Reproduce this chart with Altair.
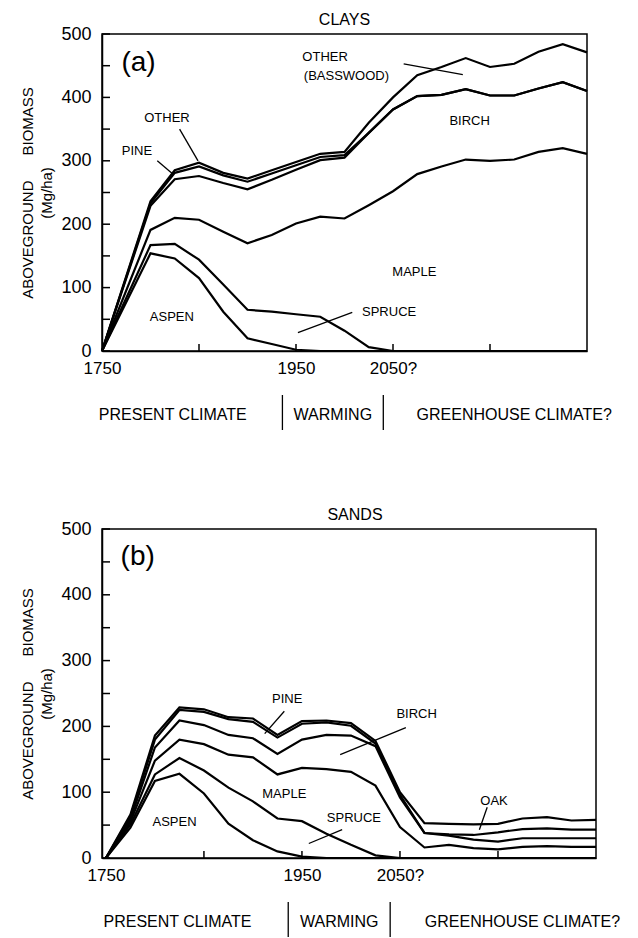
import altair as alt
import numpy as np
import pandas as pd

# ---------------- data (biomass of each species, Mg/ha) ----------------
species = ["ASPEN", "SPRUCE", "MAPLE", "BIRCH", "PINE", "OTHER"]

years_clay = [1750, 1800, 1825, 1850, 1875, 1900, 1925, 1950, 1975, 2000,
              2025, 2050, 2075, 2100, 2125, 2150, 2175, 2200, 2225, 2250]
clay_aspen = [0, 154, 146, 115, 62, 20, 11, 2, 0, 0, 0, 0, 0, 0, 0, 0, 0, 0, 0, 0]
clay_spruce = [0, 13, 23, 29, 43, 45, 51, 56, 54, 32, 6, 0, 0, 0, 0, 0, 0, 0, 0, 0]
clay_maple = [0, 24, 41, 63, 83, 105, 121, 143, 158, 177, 224, 252, 279, 291, 302, 300, 302, 314, 320, 311]
clay_birch = [0, 38, 61, 69, 77, 85, 87, 85, 89, 96, 114, 129, 123, 113, 111, 103, 101, 100, 104, 99]
clay_pine = [0, 4, 10, 15, 12, 12, 10, 7, 5, 4, 0, 0, 0, 0, 0, 0, 0, 0, 0, 0]
clay_other = [0, 3, 4, 6, 4, 5, 5, 5, 5, 5, 16, 19, 33, 44, 49, 45, 50, 58, 60, 61]

years_sand = [1750, 1775, 1800, 1825, 1850, 1875, 1900, 1925, 1950, 1975, 2000,
              2025, 2050, 2075, 2100, 2125, 2150, 2175, 2200, 2225, 2250]
sand_aspen = [0, 46, 117, 128, 98, 52, 27, 10, 2, 0, 0, 0, 0, 0, 0, 0, 0, 0, 0, 0, 0]
sand_spruce = [0, 5, 10, 24, 35, 55, 59, 50, 54, 37, 20, 4, 0, 0, 0, 0, 0, 0, 0, 0, 0]
sand_maple = [0, 4, 21, 28, 40, 50, 67, 67, 81, 98, 111, 106, 47, 16, 20, 15, 13, 17, 18, 17, 17]
sand_birch = [0, 4, 20, 29, 29, 30, 29, 31, 43, 52, 55, 60, 45, 22, 14, 13, 12, 13, 12, 13, 13]
sand_pine = [0, 4, 12, 16, 20, 24, 25, 25, 24, 19, 15, 4, 4, 0, 2, 7, 14, 14, 15, 13, 13]
sand_oak = [0, 3, 6, 4, 4, 3, 5, 4, 4, 3, 4, 4, 4, 15, 16, 16, 13, 16, 17, 14, 15]

# axis labels / ticks
xlabel_values = [1750, 1950, 2050]
xtick_values = [1850, 1950, 2050, 2150]
ylabel_values = [0, 100, 200, 300, 400, 500]
ytick_values = [0, 50, 100, 150, 200, 250, 300, 350, 400, 450, 500]

# climate periods below the axis
era_names = ["PRESENT CLIMATE", "WARMING", "GREENHOUSE CLIMATE?"]
era_centers = [1823, 1988, 2175]
era_breaks = [1936, 2040]

# annotations (year, biomass)
clay_lab_text = ["OTHER", "PINE", "OTHER", "(BASSWOOD)", "BIRCH", "MAPLE", "SPRUCE", "ASPEN"]
clay_lab_year = [1817, 1786, 1980, 2002, 2129, 2072, 2046, 1822]
clay_lab_mass = [368, 316, 463, 433, 363, 124, 62, 53]
clay_ptr_year = [1830, 1807, 2061, 2008]
clay_ptr_mass = [350, 300, 453, 61]
clay_ptr_year2 = [1849, 1823, 2122, 1952]
clay_ptr_mass2 = [300, 279, 436, 29]

sand_lab_text = ["PINE", "MAPLE", "ASPEN", "SPRUCE", "BIRCH", "OAK"]
sand_lab_year = [1935, 1932, 1820, 2003, 2067, 2146]
sand_lab_mass = [242, 97, 54, 61, 219, 86]
sand_ptr_year = [1932, 1991, 2056, 2139]
sand_ptr_mass = [223, 43, 198, 77]
sand_ptr_year2 = [1912, 1957, 1989, 2131]
sand_ptr_mass2 = [189, 22, 157, 43]

FONT = "Liberation Sans"


def stacked(years, layers):
    rows = []
    cum = np.zeros(len(years))
    for name, vals in zip(species, layers):
        cum = cum + np.array(vals, dtype=float)
        for yr, v in zip(years, cum):
            rows.append({"year": yr, "biomass": float(v), "species": name})
    return pd.DataFrame(rows)


def panel(df, xdom, w, h, title, title_dx, tag, tag_year, tag_mass,
          lab_text, lab_year, lab_mass, p_y, p_m, p_y2, p_m2):
    X = alt.X("year:Q", scale=alt.Scale(domain=xdom, nice=False, zero=False), title=None,
              axis=alt.Axis(values=xlabel_values, format="d",
                            labelExpr="datum.value == 2050 ? '2050?' : datum.label",
                            tickSize=0, labelPadding=9, labelFontSize=17,
                            labelFlush=False, labelOverlap=False))
    Y = alt.Y("biomass:Q", scale=alt.Scale(domain=[0, 500], nice=False),
              title=["ABOVEGROUND\u00a0\u00a0\u00a0\u00a0\u00a0\u00a0BIOMASS", "(Mg/ha)"],
              axis=alt.Axis(values=ylabel_values, tickSize=0, labelPadding=11,
                            labelFontSize=18, titleFontSize=15, titleFontWeight="normal",
                            titleLineHeight=19, titlePadding=6))
    lines = alt.Chart(df).mark_line(color="black", strokeWidth=2.2).encode(
        x=X, y=Y, detail="species:N")
    yt = alt.Chart(pd.DataFrame({"biomass": ytick_values})).mark_rule(
        color="black", strokeWidth=1.5).encode(y=Y, x=alt.value(0), x2=alt.value(8))
    xt = alt.Chart(pd.DataFrame({"year": xtick_values})).mark_rule(
        color="black", strokeWidth=1.5).encode(x=X, y=alt.value(h), y2=alt.value(h - 7))
    labs = alt.Chart(pd.DataFrame({"year": lab_year, "biomass": lab_mass, "label": lab_text})
                     ).mark_text(fontSize=13, color="black").encode(x=X, y=Y, text="label:N")
    ptrs = alt.Chart(pd.DataFrame({"year": p_y, "biomass": p_m, "year2": p_y2, "biomass2": p_m2})
                     ).mark_rule(color="black", strokeWidth=1.3).encode(
        x=X, x2="year2:Q", y=Y, y2="biomass2:Q")
    tagc = alt.Chart(pd.DataFrame({"year": [tag_year], "biomass": [tag_mass], "label": [tag]})
                     ).mark_text(fontSize=28, align="left", color="black").encode(
        x=X, y=Y, text="label:N")
    era_t = alt.Chart(pd.DataFrame({"year": era_centers, "label": era_names})
                      ).mark_text(fontSize=16, color="black").encode(
        x=X, y=alt.value(h + 64), text="label:N")
    era_s = alt.Chart(pd.DataFrame({"year": era_breaks})).mark_rule(
        color="black", strokeWidth=1.3).encode(
        x=X, y=alt.value(h + 44), y2=alt.value(h + 79))
    return alt.layer(lines, yt, xt, labs, ptrs, tagc, era_t, era_s).properties(
        width=w, height=h,
        title=alt.TitleParams(title, fontSize=16, fontWeight="normal", offset=-3,
                              dx=title_dx, frame="group"))


clay_df = stacked(years_clay, [clay_aspen, clay_spruce, clay_maple, clay_birch, clay_pine, clay_other])
sand_df = stacked(years_sand, [sand_aspen, sand_spruce, sand_maple, sand_birch, sand_pine, sand_oak])

top = panel(clay_df, [1750, 2250], 485, 317, "CLAYS", 0, "(a)", 1770, 455,
            clay_lab_text, clay_lab_year, clay_lab_mass,
            clay_ptr_year, clay_ptr_mass, clay_ptr_year2, clay_ptr_mass2)
bot = panel(sand_df, [1746, 2250], 494, 329, "SANDS", 6, "(b)", 1765, 458,
            sand_lab_text, sand_lab_year, sand_lab_mass,
            sand_ptr_year, sand_ptr_mass, sand_ptr_year2, sand_ptr_mass2)

chart = alt.vconcat(top, bot, spacing=74).properties(
    padding={"left": 12, "top": 3, "right": 5, "bottom": 5}
).configure(font=FONT).configure_view(
    stroke="black", strokeWidth=1.5
).configure_axis(
    domainColor="black", domainWidth=1.5, labelColor="black", titleColor="black", grid=False
).configure_title(color="black", anchor="middle")

chart.save("out.html", embed_options={"renderer": "svg", "actions": False})
